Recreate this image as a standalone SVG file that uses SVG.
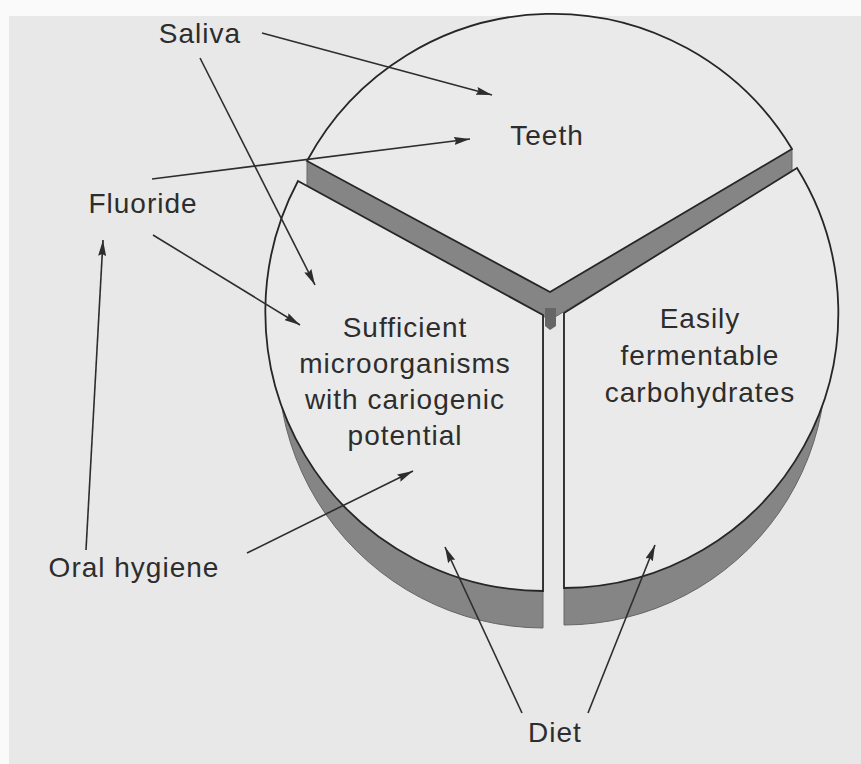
<svg xmlns="http://www.w3.org/2000/svg" width="861" height="764" viewBox="0 0 861 764">
<defs>
<style>
.page{fill:#fafafa}
.bg{fill:#e8e8e8}
.face{fill:#eaeaea;stroke:#262626;stroke-width:1.8;stroke-linejoin:miter}
.side{fill:#858585;stroke:#666;stroke-width:1}
.lbl{font-family:"Liberation Sans",Arial,Helvetica,sans-serif;font-size:28px;fill:#2d2d2d;text-anchor:middle;letter-spacing:1px}
.conn{fill:none;stroke:#2d2d2d;stroke-width:1.6;marker-end:url(#ah)}
</style>
<marker id="ah" viewBox="0 0 16 8" refX="16" refY="4" markerWidth="16" markerHeight="8" markerUnits="userSpaceOnUse" orient="auto">
<path d="M0,0 L16,4 L0,8 L2,4 Z" fill="#2d2d2d"/>
</marker>
</defs>
<rect class="page" x="0" y="0" width="861" height="764"/>
<rect class="bg" x="9" y="16" width="852" height="748"/>

<g id="pie">
<g id="node-teeth">
<path class="side" d="M307,161 L550,292 L792,149 L792,174 L550,320 L307,188 Z"/>
<path d="M545,308 L556,308 L556,326 L550,330 L545,326 Z" fill="#666"/>
<path class="face" d="M307,161 A279,279 0 0 1 792,149 L550,292 Z"/>
<text class="lbl" x="547" y="145">Teeth</text>
</g>
<g id="node-microorganisms">
<path class="side" d="M543,315 L543,628 A266,266 0 0 1 294,271 Z"/>
<path class="face" d="M298,181 L543,315 L543,591 A279,279 0 0 1 298,181 Z"/>
<text class="lbl" x="405" y="337">Sufficient</text>
<text class="lbl" x="405" y="373">microorganisms</text>
<text class="lbl" x="405" y="409">with cariogenic</text>
<text class="lbl" x="405" y="445">potential</text>
</g>
<g id="node-carbohydrates">
<path class="side" d="M564,313 L564,625 A262,262 0 0 0 810,273 Z"/>
<path class="face" d="M797,168 L564,313 L564,588 A275,275 0 0 0 797,168 Z"/>
<text class="lbl" x="700" y="328">Easily</text>
<text class="lbl" x="700" y="365">fermentable</text>
<text class="lbl" x="700" y="402">carbohydrates</text>
</g>
</g>

<g id="node-saliva"><text class="lbl" x="200" y="43">Saliva</text></g>
<g id="node-fluoride"><text class="lbl" x="143" y="213">Fluoride</text></g>
<g id="node-oral-hygiene"><text class="lbl" x="134" y="577">Oral hygiene</text></g>
<g id="node-diet"><text class="lbl" x="555" y="742">Diet</text></g>

<g id="connectors">
<path class="conn" d="M262,33 L492,95"/>
<path class="conn" d="M200,58 L315,285"/>
<path class="conn" d="M152,179 L470,139"/>
<path class="conn" d="M153,235 L300,325"/>
<path class="conn" d="M86,550 L103,240"/>
<path class="conn" d="M247,553 L413,471"/>
<path class="conn" d="M522,713 L445,547"/>
<path class="conn" d="M588,713 L655,545"/>
</g>
</svg>
